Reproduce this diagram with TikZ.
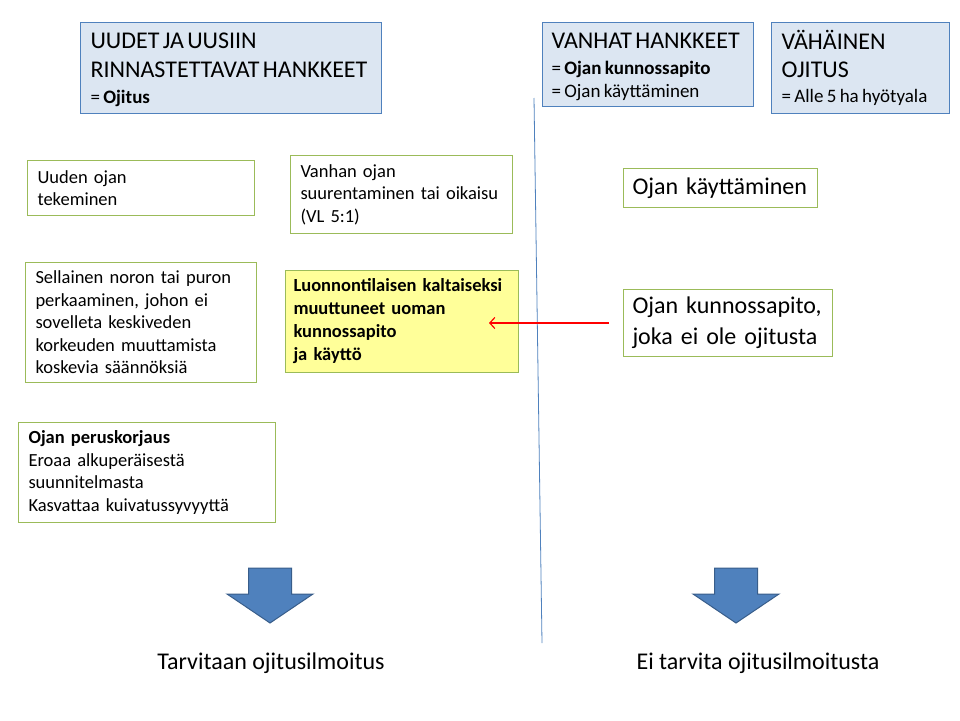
\documentclass[tikz,border=0pt]{standalone}
\usepackage{fontspec}
\setmainfont{Carlito}
\usetikzlibrary{arrows.meta}
\definecolor{headfill}{HTML}{DCE6F2}
\definecolor{headline}{HTML}{4F81BD}
\definecolor{boxgreen}{HTML}{9BBB59}
\definecolor{noteyellow}{HTML}{FFFF99}
\definecolor{arrowline}{HTML}{385D8A}
\definecolor{pointred}{HTML}{FF0000}

\begin{document}
\begin{tikzpicture}[x=1pt,y=-1pt,
  headbox/.style={draw=headline,fill=headfill,line width=1pt,anchor=north west,inner xsep=10pt,inner ysep=0pt,align=left},
  greenbox/.style={draw=boxgreen,line width=1pt,anchor=north west,inner xsep=10pt,inner ysep=0pt,align=left,font=\fontsize{18.5}{22.5}\selectfont},
  bigbox/.style={greenbox,inner xsep=9pt,font=\fontsize{24}{31}\selectfont},
  blockarrow/.style={fill=headline,draw=arrowline,line width=1pt,line join=miter},
  bottomtxt/.style={font=\fontsize{24}{28}\selectfont}]
\useasboundingbox (0,0) rectangle (960,720);
\node[headbox,minimum width=301pt,minimum height=91pt,text width=281pt] (uudet) at (80,22)
  {{\fontsize{24}{28.5}\selectfont\rule{0pt}{19.5pt}UUDET JA UUSIIN\\RINNASTETTAVAT HANKKEET\par}\vspace{3pt}%
   {\fontsize{19}{23}\selectfont = \textbf{Ojitus}\par}};
\node[headbox,inner xsep=9pt,minimum width=211pt,minimum height=84pt,text width=193pt] (vanhat) at (542,22)
  {{\fontsize{24}{28.5}\selectfont\rule{0pt}{19.5pt}VANHAT HANKKEET\par}\vspace{3pt}%
   {\fontsize{19}{23}\selectfont = \textbf{Ojan kunnossapito}\\= Ojan käyttäminen\par}};
\node[headbox,minimum width=178pt,minimum height=91pt,text width=158pt] (vahainen) at (771,22)
  {{\fontsize{24}{28.5}\selectfont\rule{0pt}{17.5pt}VÄHÄINEN\\OJITUS\par}\vspace{2pt}%
   {\fontsize{19}{23}\selectfont = Alle 5 ha hyötyala\par}};

\node[greenbox,minimum width=227pt,minimum height=55pt,text width=207pt] (uusioja) at (27,160)
  {Uuden ojan\\tekeminen};
\node[greenbox,minimum width=222pt,minimum height=78pt,text width=202pt] (vanhaoja) at (290,155)
  {Vanhan ojan\\suurentaminen tai oikaisu\\(VL 5:1)};
\node[greenbox,minimum width=231pt,minimum height=120pt,text width=211pt] (perkaus) at (25,262)
  {Sellainen noron tai puron\\perkaaminen, johon ei\\sovelleta keskiveden\\korkeuden muuttamista\\koskevia säännöksiä};
\node[greenbox,fill=noteyellow,inner xsep=8pt,minimum width=233pt,minimum height=102pt,text width=217pt,font=\fontsize{18.5}{23}\selectfont\bfseries] (luonnon) at (285,270)
  {Luonnontilaisen kaltaiseksi\\muuttuneet uoman\\kunnossapito\\ja käyttö};
\node[greenbox,minimum width=257pt,minimum height=100pt,text width=237pt] (perus) at (18,422)
  {\textbf{Ojan peruskorjaus}\\Eroaa alkuperäisestä\\suunnitelmasta\\Kasvattaa kuivatussyvyyttä};

\node[bigbox,minimum width=194pt,minimum height=39pt,text width=176pt] (kaytto) at (623,168)
  {Ojan käyttäminen};
\node[bigbox,minimum width=209pt,minimum height=67pt,text width=191pt] (kunnossa) at (623,289)
  {Ojan kunnossapito,\\joka ei ole ojitusta};

\coordinate (jakoyla) at (534,98);
\coordinate (jakoala) at (542,643);
\draw[headline,line width=0.8pt] (jakoyla) -- (jakoala);

\draw[draw=pointred,line width=1.2pt,-{Straight Barb[length=5pt,width=11pt]}]
  ([xshift=-14pt]kunnossa.west) -- ([xshift=-30pt]kunnossa.west -| luonnon.east);

\foreach \cx in {270,736}{
  \draw[blockarrow] (\cx-21.5,568) -- (\cx+21.5,568) -- (\cx+21.5,594) -- (\cx+43,594)
    -- (\cx,623) -- (\cx-43,594) -- (\cx-21.5,594) -- cycle;
}

\node[bottomtxt] (tarvitaan) at (271,663) {Tarvitaan ojitusilmoitus};
\node[bottomtxt] (eitarvita) at (758,663) {Ei tarvita ojitusilmoitusta};
\end{tikzpicture}
\end{document}
